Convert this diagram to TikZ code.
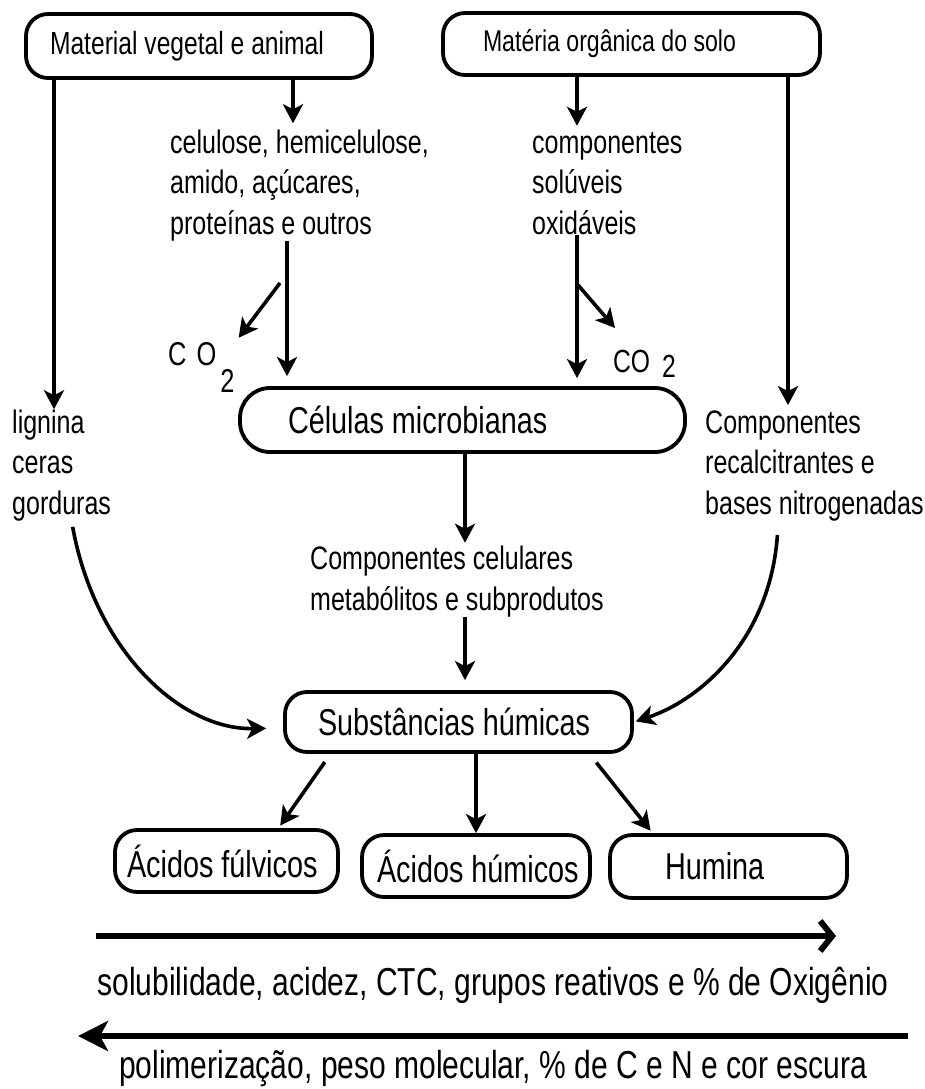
\documentclass[tikz,border=0pt]{standalone}
\usepackage{fontspec}
\setmainfont{Liberation Sans}[FakeStretch=0.77]
\usepackage{tikz}
\usetikzlibrary{arrows.meta}

\newcommand{\ftexto}{\fontsize{32.5}{40.5}\selectfont}
\newcommand{\fcaixa}{\fontsize{37.4}{40}\selectfont}
\newcommand{\frodape}{\fontsize{39}{44}\selectfont}

\tikzset{
    caixa/.style={draw, line width=3.8pt, rounded corners=22pt, inner ysep=0pt, font=\fcaixa},
    rotulo/.style={inner sep=0pt, align=left, anchor=base west, font=\ftexto},
    seta/.style={-{Stealth[length=19pt,width=20pt,inset=5pt]}, line width=3.6pt},
    setagrossa/.style={line width=6pt},
}

\begin{document}
\begin{tikzpicture}[x=1pt,y=-1pt]
    \useasboundingbox (0,0) rectangle (925,1089);

    % colunas das setas verticais
    \coordinate (xA) at (54,0);
    \coordinate (xB) at (293,0);
    \coordinate (xC) at (287,0);
    \coordinate (xD) at (577,0);
    \coordinate (xE) at (788,0);
    \coordinate (xF) at (465,0);

    %Caixas
    \node[caixa, inner xsep=24pt, minimum height=64pt, font=\fontsize{32}{36}\selectfont] (mva) at (199,46) {\makebox[298pt][l]{Material vegetal e animal}};
    \node[caixa, inner xsep=40pt, minimum height=62pt, font=\fontsize{30}{34}\selectfont] (mos) at (631.5,44) {\makebox[297pt][l]{Matéria orgânica do solo}};
    \node[caixa, inner xsep=48pt, minimum height=64pt, rounded corners=30pt] (cel) at (462.5,420) {\makebox[349pt][l]{Células microbianas}};
    \node[caixa, inner xsep=33pt, minimum height=60pt] (sub) at (458.5,722) {\makebox[281pt][l]{Substâncias húmicas}};
    \node[caixa, inner xsep=12pt, minimum height=62pt] (ful) at (226.5,861) {\makebox[199pt][l]{Ácidos fúlvicos}};
    \node[caixa, inner xsep=15pt, minimum height=62pt] (hum) at (476,866) {\makebox[198pt][l]{Ácidos húmicos}};
    \node[caixa, inner xsep=55pt, minimum height=63pt] (humi) at (728.5,866.5) {\makebox[127pt][l]{Humina}};

    % Textos (ancorados na linha de base da ultima linha)
    \node[rotulo] (celul) at (170,234) {celulose, hemicelulose,\\amido, açúcares,\\proteínas e outros};
    \node[rotulo] (solu) at (532,234) {componentes\\solúveis\\oxidáveis};
    \node[rotulo] (lig) at (12,514) {lignina\\ceras\\gorduras};
    \node[rotulo] (rec) at (705,514) {Componentes\\recalcitrantes e\\bases nitrogenadas};
    \node[rotulo] (cc) at (310,610) {Componentes celulares\\metabólitos e subprodutos};
    \node[rotulo, inner sep=4pt, font=\fontsize{33}{36}\selectfont] (co2a) at (164,365) {C\hspace{10pt}O\hspace{4pt}\raisebox{-27pt}{2}};
    \node[rotulo, font=\fontsize{32}{36}\selectfont] (co2b) at (613,372) {CO\hspace{12pt}\raisebox{-5pt}{2}};

    % Setas
    \draw[seta] (mva.south -| xA) -- (lig.north -| xA);
    \draw[seta, shorten >=6pt] (mva.south -| xB) -- (celul.north -| xB);
    \draw[seta, shorten >=10pt] (celul.south -| xC) -- (cel.north -| xC);
    \coordinate (ramoA) at (280,283);
    \draw[seta] (ramoA) -- (co2a.north east);

    \draw[seta, shorten >=6pt] (mos.south -| xD) -- (solu.north -| xD);
    \draw[seta, shorten >=8pt] (solu.south -| xD) -- (cel.north -| xD);
    \coordinate (ramoB) at (578,285);
    \coordinate (pontaB) at (615,328);
    \draw[seta] (ramoB) -- (pontaB);
    \draw[seta, shorten >=5pt] (mos.south -| xE) -- (rec.north -| xE);

    \draw[seta, shorten >=3pt] (cel.south -| xF) -- (cc.north -| xF);
    \draw[seta, shorten >=10pt] (cc.south -| xF) -- (sub.north -| xF);

    \draw[seta, shorten <=6pt, shorten >=17pt] ([xshift=10pt]lig.south) .. controls (95,650) and (180,730) .. ([yshift=-6pt]sub.west);
    \draw[seta, shorten <=14pt, shorten >=2pt] ([xshift=-36pt]rec.south) .. controls (770,640) and (700,700) .. (sub.east);

    \draw[seta, shorten <=10pt, shorten >=3pt] ([xshift=-128pt]sub.south) -- ([xshift=52pt]ful.north);
    \draw[seta] (sub.south -| hum.north) -- (hum.north);
    \draw[seta, shorten <=11pt, shorten >=3pt] ([xshift=131pt]sub.south) -- ([xshift=-76pt]humi.north);

    % Propriedades
    \coordinate (f1a) at (96,936);
    \coordinate (f1b) at (836,936);
    \draw[setagrossa, -{Straight Barb[length=12pt,width=30pt]}] (f1a) -- (f1b);
    \node[font=\frodape, inner sep=0pt] (prop1) at (493,985) {solubilidade, acidez, CTC, grupos reativos e \% de Oxigênio};
    \coordinate (f2a) at (908,1036);
    \coordinate (f2b) at (78,1036);
    \draw[setagrossa, -{Stealth[length=30pt,width=30pt,inset=8pt]}] (f2a) -- (f2b);
    \node[font=\frodape, inner sep=0pt] (prop2) at (493,1068) {polimerização, peso molecular, \% de C e N e cor escura};
\end{tikzpicture}
\end{document}
